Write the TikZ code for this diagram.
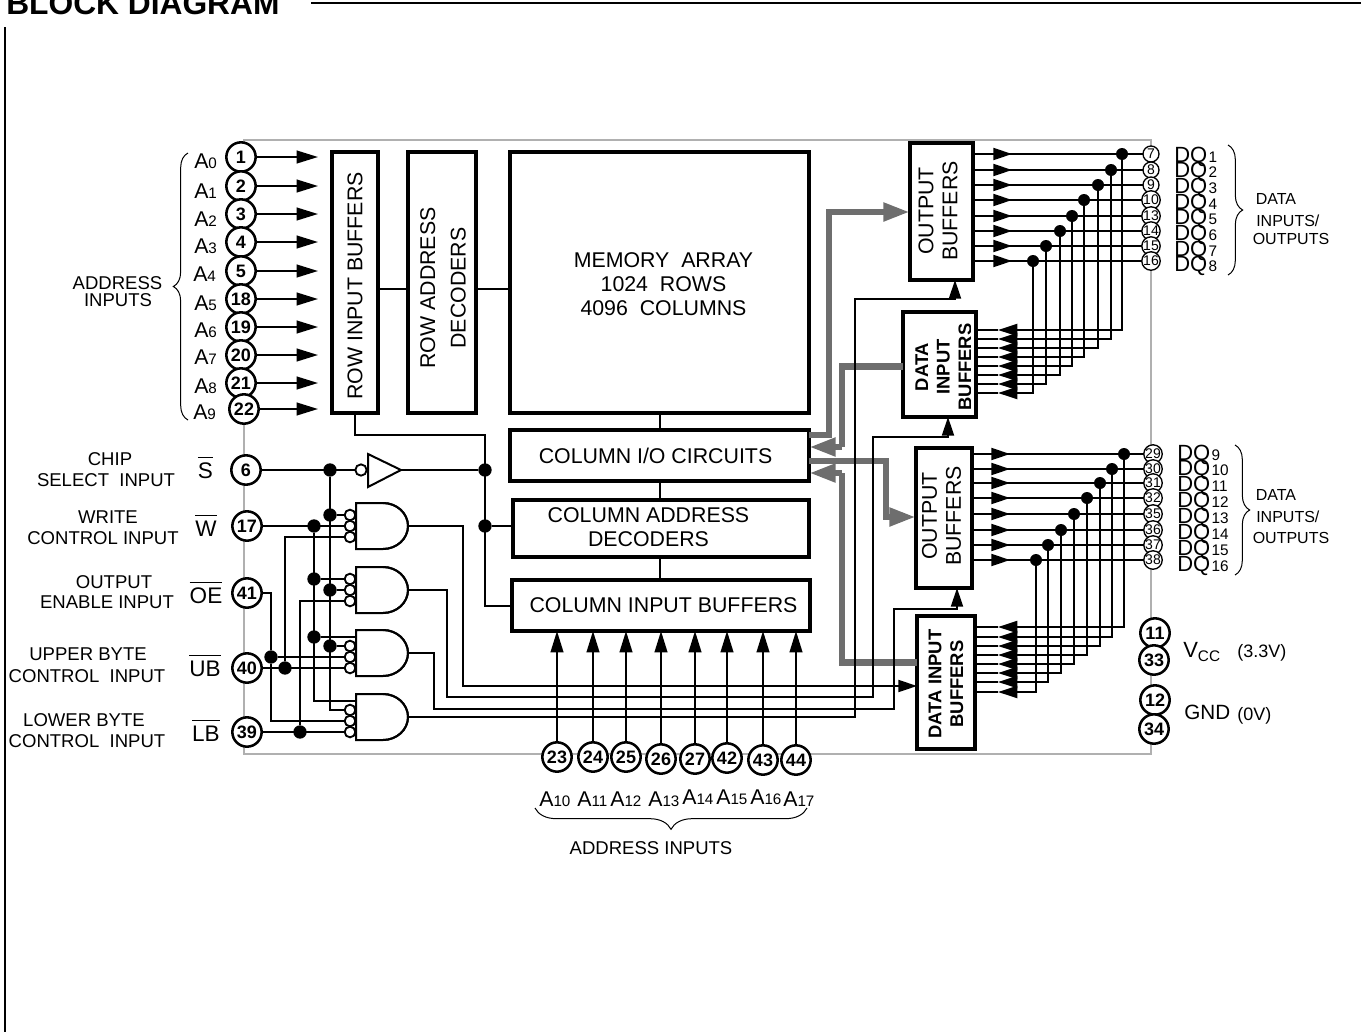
\documentclass[tikz,border=0pt]{standalone}
\usepackage{fontspec}
\setmainfont{Liberation Sans}
\usetikzlibrary{positioning,arrows.meta,calc,decorations.pathreplacing}
\newcommand{\px}{0.75pt}
\newcommand{\fs}[1]{\fontsize{#1}{#1}\selectfont}
\newcommand{\adr}[1]{\fs{16}A\fs{11.4}#1}
\newcommand{\dql}[1]{\fs{16.5}DQ\hspace{1pt}\fs{11.5}#1}
\newcommand{\barred}[1]{\ensuremath{\overline{\rule{0pt}{14.5pt}\mbox{#1}}}}
\definecolor{framegray}{RGB}{176,176,176}
\definecolor{busgray}{RGB}{110,110,110}
\tikzset{
  frameln/.style={line width=1.5pt, framegray},
  sheetln/.style={line width=1.5pt, black},
  heavy/.style={draw, line width=2.6pt, outer sep=0pt, inner sep=0pt},
  boxt/.style={font=\fs{16}, inner sep=0pt, align=center},
  boxtb/.style={font=\bfseries\fs{13.8}, inner sep=0pt, align=center},
  wire/.style={line width=1.5pt},
  arr/.style={wire, -{Triangle[length=16pt,width=9.5pt]}},
  arrs/.style={wire, -{Triangle[length=14pt,width=9pt]}},
  arrin/.style={wire, -{Triangle[length=14.5pt,width=9pt]}},
  bus/.style={line width=5.2pt, busgray},
  busarr/.style={bus, -{Triangle[length=20pt,width=13pt]}},
  dotn/.style={circle, fill=black, minimum size=10pt, inner sep=0pt, outer sep=0pt},
  bubble/.style={circle, draw, line width=1.4pt, fill=white, minimum size=8pt, inner sep=0pt, outer sep=0pt},
  pin/.style={circle, draw, fill=white, line width=1.9pt, minimum size=22pt, inner sep=0pt, outer sep=0pt, font=\bfseries\fs{13.5}},
  pinq/.style={circle, draw, fill=white, line width=1pt, minimum size=12pt, inner sep=0pt, outer sep=0pt, font=\fs{10.5}},
  lbl/.style={inner sep=0pt, font=\fs{13.9}},
  lbls/.style={inner sep=0pt, anchor=west, font=\fs{12}},
  sgn/.style={inner sep=0pt, anchor=base, font=\fs{16.9}},
  adrl/.style={anchor=base west, inner sep=0pt},
  brc/.style={line width=0.75pt, decorate}
}
\newcommand{\andgate}[3]{
  \draw[wire] (383,#2-23) -- (356,#2-23) -- (356,#2+23) -- (383,#2+23) arc[start angle=90, end angle=-90, x radius=25, y radius=23];
  \draw[wire] (383,#2-23) arc[start angle=-90, end angle=90, x radius=25, y radius=23];
  \node[bubble] (#1a) at (350,#2+#3-11) {};
  \node[bubble] (#1b) at (350,#2+#3) {};
  \node[bubble] (#1c) at (350,#2+#3+11) {};
  \coordinate (#1out) at (408,#2);
}
\begin{document}
\begin{tikzpicture}[x=0.75pt, y=-0.75pt]
\useasboundingbox (0,0) rectangle (1361,1032);
\node[anchor=base west, inner sep=0pt, font=\bfseries\fs{23.8}] (title) at (6,14.7) {BLOCK DIAGRAM};
\draw[sheetln] (311,3) -- (1361,3);
\draw[sheetln] (5,27) -- (5,1032);
\draw[frameln] (244,139.5) rectangle (1151,754);

\node[heavy, minimum width=46*\px, minimum height=261*\px] (rib) at (355,282.5) {};
\node[boxt, rotate=90] (ribt) at (355,286) {ROW INPUT BUFFERS};
\node[heavy, minimum width=68*\px, minimum height=261*\px] (rad) at (442,282.5) {};
\node[boxt, rotate=90] (radt) at (443,288) {ROW ADDRESS\\[7pt]DECODERS};
\node[heavy, minimum width=299*\px, minimum height=261*\px] (mem) at (659.5,282.5) {};
\node[boxt] (memt) at (663.5,284.5) {MEMORY\ \ ARRAY\\[2pt]1024\ \ ROWS\\[2pt]4096\ \ COLUMNS};
\node[heavy, minimum width=299*\px, minimum height=51*\px] (cio) at (659.5,455.5) {};
\node[boxt] (ciot) at (655.5,456) {COLUMN I/O CIRCUITS};
\node[heavy, minimum width=296*\px, minimum height=57*\px] (cad) at (661,528.5) {};
\node[boxt] (cadt) at (648.5,527) {COLUMN ADDRESS\\[2pt]DECODERS};
\node[heavy, minimum width=298*\px, minimum height=51*\px] (cib) at (661,605.5) {};
\node[boxt] (cibt) at (663.5,605.5) {COLUMN INPUT BUFFERS};
\node[heavy, minimum width=63*\px, minimum height=137*\px] (obu) at (941.5,211.5) {};
\node[boxt, rotate=90] (obut) at (938,211) {OUTPUT\\[2pt]BUFFERS};
\node[heavy, minimum width=56*\px, minimum height=140*\px] (obl) at (944,518) {};
\node[boxt, rotate=90] (oblt) at (941.5,516) {OUTPUT\\[2pt]BUFFERS};
\node[heavy, minimum width=73*\px, minimum height=105*\px] (idu) at (939.5,364.5) {};
\begin{scope}
\clip (906,314) rectangle (970,415);
\node[boxtb, rotate=90] (idut) at (943.5,367) {DATA\\[2.5pt]INPUT\\[2.5pt]BUFFERS};
\end{scope}
\node[heavy, minimum width=58*\px, minimum height=133*\px] (idl) at (946,682.5) {};
\node[boxtb, rotate=90] (idlt) at (946,684) {DATA INPUT\\[2.5pt]BUFFERS};

\draw[wire] (rib.east |- 0,289) -- (rad.west |- 0,289);
\draw[wire] (rad.east |- 0,289) -- (mem.west |- 0,289);
\draw[wire] (mem.south -| 660,0) -- (cio.north -| 660,0);
\draw[wire] (cio.south -| 660,0) -- (cad.north -| 660,0);
\draw[wire] (cad.south -| 660,0) -- (cib.north -| 660,0);

\foreach \n/\x/\y/\k/\ax/\ab in {1/241/157/0/194/168, 2/241/186/1/194/198, 3/241/214/2/194/226, 4/241/242/3/194/253, 5/241/271/4/193/281, 18/241/299/5/194/310, 19/241/327/6/194/337, 20/241/355/7/194/364, 21/241/383/8/194/393, 22/244/409/9/193/419}{
  \node[pin] (ad\n) at (\x,\y) {\n};
  \draw[arr] (ad\n) -- (318,\y);
  \node[adrl] (adl\n) at (\ax,\ab) {\adr{\k}};
}

\foreach \n/\x/\y/\k/\ax/\ab in {23/557/757/10/539/806, 24/593/757/11/577/806, 25/626/757/12/610/806, 26/661/759/13/648/806, 27/695/759/14/682/804, 42/727/758/15/716/804, 43/763/760/16/750/804, 44/796/760/17/783/806}{
  \node[pin] (ad\n) at (\x,\y) {\n};
  \draw[arr] (ad\n) -- (cib.south -| ad\n);
  \node[adrl] (adl\n) at (\ax,\ab) {\adr{\k}};
}

\draw[brc, decoration={brace, amplitude=11pt}] (188,420) -- (188,153);
\draw[brc, decoration={brace, amplitude=16pt}] (807,808) -- (535,808);
\draw[brc, decoration={brace, amplitude=11pt}] (1228,145) -- (1228,275);
\draw[brc, decoration={brace, amplitude=11pt}] (1235,445) -- (1235,575);
\node[lbl] (adrt1) at (117.5,283) {ADDRESS};
\node[lbl] (adrt2) at (118,300) {INPUTS};
\node[lbl] (adrb) at (651,848) {ADDRESS INPUTS};
\foreach \nm/\y/\a/\b/\c in {iou/0/199/221/239, iol/297/198/220/241}{
  \node[lbls] (\nm a) at (1255.5,\y+\a) {DATA};
  \node[lbls] (\nm b) at (1256,\y+\b) {INPUTS/};
  \node[lbls] (\nm c) at (1252.5,\y+\c) {OUTPUTS};
}

\node[lbl] (cs1) at (110,459) {CHIP};
\node[lbl] (cs2) at (106,480) {SELECT\ \ INPUT};
\node[lbl] (we1) at (108,517) {WRITE};
\node[lbl] (we2) at (103,538) {CONTROL INPUT};
\node[lbl] (oe1) at (114,582) {OUTPUT};
\node[lbl] (oe2) at (107,602) {ENABLE INPUT};
\node[lbl] (ub1) at (88,654) {UPPER BYTE};
\node[lbl] (ub2) at (87,676) {CONTROL\ \ INPUT};
\node[lbl] (lb1) at (84,720) {LOWER BYTE};
\node[lbl] (lb2) at (87,741) {CONTROL\ \ INPUT};
\node[sgn] (sbar) at (205.5,478) {\barred{S}};
\node[sgn] (wbar) at (206,536) {\barred{W}};
\node[sgn] (oebar) at (206,603) {\barred{OE}};
\node[sgn] (ubbar) at (205,676) {\barred{UB}};
\node[sgn] (lbbar) at (206,741) {\barred{LB}};

\node[pin] (p6) at (246,470) {6};
\node[pin] (p17) at (247,526) {17};
\node[pin] (p41) at (247,593) {41};
\node[pin] (p40) at (247,668) {40};
\node[pin] (p39) at (247,732) {39};

\andgate{ga}{526}{0}
\andgate{gb}{590}{0}
\andgate{gc}{653}{4}
\andgate{gd}{717}{4}

\node[dotn] (sd) at (330,470) {};
\node[bubble, minimum size=8.5pt] (sbub) at (361,470) {};
\coordinate (tri) at (401,470);
\draw[wire] (368,454) -- (tri) -- (368,487) -- cycle;
\node[dotn] (rd1) at (485,470) {};
\node[dotn] (rd2) at (485,526) {};
\draw[wire] (p6) -- (sbub);
\draw[wire] (tri) -- (rd1);
\draw[wire] (rib.south) |- (rd1 |- 0,435) -- (rd1 |- cib.west) -- (cib.west);
\draw[wire] (rd2) -- (cad.west |- rd2);

\node[dotn] (sa) at (330,515) {};
\node[dotn] (sb) at (330,590) {};
\node[dotn] (sc) at (330,646) {};
\draw[wire] (sd) |- (gda);
\draw[wire] (sa) -- (gaa);
\draw[wire] (sb) -- (gbb);
\draw[wire] (sc) -- (gca);

\node[dotn] (wa) at (314,526) {};
\node[dotn] (wb) at (314,579) {};
\node[dotn] (wc) at (314,637) {};
\draw[wire] (p17) -- (gab);
\draw[wire] (wa) |- (356,701);
\draw[wire] (wb) -- (gba);
\draw[wire] (wc) -- (356,637);

\node[dotn] (oea) at (271,657) {};
\draw[wire] (p41) -| (oea) |- (gdb);
\draw[wire] (oea) -- (gcb);

\node[dotn] (uba) at (285,668) {};
\draw[wire] (p40) -- (gcc);
\draw[wire] (uba) |- (gac);

\node[dotn] (lba) at (300,732) {};
\draw[wire] (p39) -- (gdc);
\draw[wire] (lba) |- (gbc);

\draw[bus] ($(idu.west)+(0,2)$) -| (842,447);
\draw[busarr] (842,447) -- (cio.east |- 0,447);
\draw[bus] ($(idl.west)+(0,-20)$) -| (842,473);
\draw[busarr] (842,473) -- (cio.east |- 0,473);
\draw[busarr] (cio.east |- 0,435) -| (829,212) -- (obu.west |- 0,212);
\draw[busarr] (cio.east |- 0,461) -| (886,517) -- (obl.west |- 0,517);

\draw[arrs] (gaout) -| (463,686) -- (idl.west |- 0,686);
\draw[arrs] (gbout) -| (447,697) -| (873,437) -| (idu.south -| 948,0);
\draw[arrs] (gcout) -| (434,709) -| (894,609) -| (obl.south -| 957,0);
\draw[arrs] (gdout) -- (855,717) |- (955,299) -- (obu.south -| 955,0);

\foreach \n/\y/\dx/\iy in {7/154/1122/330, 8/170/1111/339, 9/185/1098/348, 10/200/1084/357, 13/216/1072/366, 14/231/1060/375, 15/246/1046/384, 16/261/1033/393}{
  \node[pinq] (dq\n) at (1151,\y) {\n};
  \node[dotn, minimum size=9pt] (dd\n) at (\dx,\y) {};
  \draw[wire] (obu.east |- dq\n) -- (dq\n);
  \draw[arrs] (obu.east |- dq\n) -- (1012,\y);
  \draw[arrin] (dd\n) |- (998,\iy);
  \draw[wire] (998,\iy) -- (idu.east |- 0,\iy);
}
\foreach \n/\y/\dx/\iy in {29/454/1124/627, 30/469/1112/637, 31/483/1100/646, 32/498/1087/655, 35/514/1074/664, 36/530/1061/673, 37/545/1048/682, 38/560/1036/692}{
  \node[pinq] (dq\n) at (1153,\y) {\n};
  \node[dotn, minimum size=9pt] (dd\n) at (\dx,\y) {};
  \draw[wire] (obl.east |- dq\n) -- (dq\n);
  \draw[arrs] (obl.east |- dq\n) -- (1010,\y);
  \draw[arrin] (dd\n) |- (998,\iy);
  \draw[wire] (998,\iy) -- (idl.east |- 0,\iy);
}
\foreach \k in {1,...,8}{
  \node[adrl] (dql\k) at (1174,{162+15.7*(\k-1)}) {\dql{\k}};
}
\foreach \k in {9,...,16}{
  \node[adrl] (dql\k) at (1177,{460+15.9*(\k-9)}) {\dql{\k}};
}

\node[pin] (p11) at (1155,633) {11};
\node[pin] (p33) at (1154,660) {33};
\node[pin] (p12) at (1155,700) {12};
\node[pin] (p34) at (1154,729) {34};
\node[adrl] (vcc) at (1183,657) {\fs{16.5}V\raisebox{-3pt}{\fs{11.5}CC}};
\node[adrl, font=\fs{13.5}] (vcv) at (1237,657) {(3.3V)};
\node[adrl, font=\fs{15.5}] (gnd) at (1184,719) {GND};
\node[adrl, font=\fs{13.5}] (gnv) at (1237,720) {(0V)};
\end{tikzpicture}
\end{document}
